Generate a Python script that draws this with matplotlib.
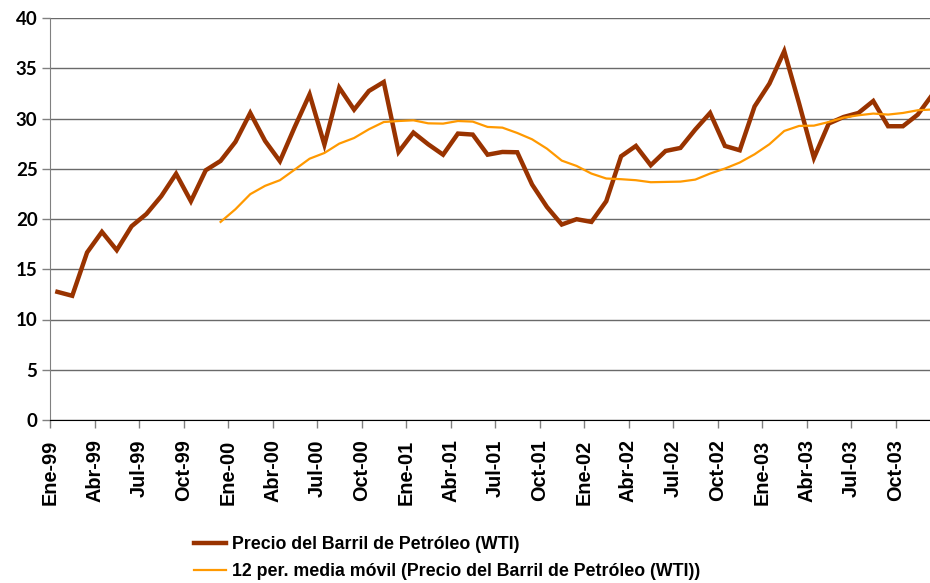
import numpy as np
import matplotlib
matplotlib.use('Agg')
import matplotlib.pyplot as plt
import matplotlib.transforms as mtransforms

# DATOS MENSUALES ENE-99 A DIC-03
precio_wti = [12.75, 12.36, 16.67, 18.72, 16.90, 19.28, 20.50, 22.27, 24.50, 21.77, 24.85, 25.78,
              27.67, 30.55, 27.77, 25.75, 29.16, 32.40, 27.40, 33.07, 30.88, 32.74, 33.63, 26.67,
              28.60, 27.43, 26.40, 28.50, 28.40, 26.40, 26.67, 26.64, 23.43, 21.20, 19.45, 19.98,
              19.71, 21.77, 26.24, 27.27, 25.35, 26.77, 27.07, 28.90, 30.55, 27.27, 26.84, 31.20,
              33.47, 36.70, 31.50, 26.08, 29.50, 30.15, 30.55, 31.74, 29.23, 29.23, 30.39, 32.40]

# MEDIA MOVIL 12 PERIODOS (EMPIEZA EN DIC-99)
media_movil = [19.71, 20.97, 22.47, 23.30, 23.86, 24.92, 26.00, 26.57, 27.50, 28.06, 28.93, 29.65,
               29.75, 29.82, 29.52, 29.49, 29.75, 29.69, 29.16, 29.09, 28.56, 27.93, 27.00, 25.81,
               25.28, 24.52, 24.03, 23.96, 23.86, 23.66, 23.69, 23.72, 23.92, 24.52, 25.02, 25.62,
               26.44, 27.44, 28.76, 29.26, 29.29, 29.65, 30.09, 30.32, 30.49, 30.39, 30.55, 30.82, 30.90]

etiquetas_x = ['Ene-99', 'Abr-99', 'Jul-99', 'Oct-99', 'Ene-00', 'Abr-00', 'Jul-00', 'Oct-00',
               'Ene-01', 'Abr-01', 'Jul-01', 'Oct-01', 'Ene-02', 'Abr-02', 'Jul-02', 'Oct-02',
               'Ene-03', 'Abr-03', 'Jul-03', 'Oct-03']

W, H = 930, 583
fig = plt.figure(figsize=(W / 100, H / 100), dpi=100)
ax = fig.add_axes([50 / W, (H - 420) / H, 890 / W, 402 / H])

x = np.arange(len(precio_wti))
x_mm = np.arange(11, 11 + len(media_movil))

ax.plot(x, precio_wti, color='#993300', lw=3.2, solid_joinstyle='miter',
        label='Precio del Barril de Petróleo (WTI)', zorder=3)
ax.plot(x_mm, media_movil, color='#FF9900', lw=1.6,
        label='12 per. media móvil (Precio del Barril de Petróleo (WTI))', zorder=3)

ax.set_xlim(-0.5, len(precio_wti) - 0.5)
ax.set_ylim(0, 40)
ax.set_yticks(range(0, 41, 5))
ax.set_yticklabels([str(v) for v in range(0, 41, 5)], fontsize=13.5,
                   fontweight='bold', family='Lato')
ax.set_xticks(np.arange(-0.5, len(precio_wti) - 1, 3))
ax.set_xticklabels(etiquetas_x, rotation=90, fontsize=14.3, fontweight='bold',
                   family='Liberation Sans', va='top', ha='center')
offset = mtransforms.ScaledTranslation(5 / 100, 0, fig.dpi_scale_trans)
for lbl in ax.get_xticklabels():
    lbl.set_transform(lbl.get_transform() + offset)

ax.grid(axis='y', color='#6a6a6a', lw=1.0)
ax.set_axisbelow(True)
for s in ['top', 'right']:
    ax.spines[s].set_visible(False)
ax.spines['left'].set_color('#808080')
ax.spines['bottom'].set_color('black')
ax.tick_params(axis='both', length=6, color='#808080', width=1)
ax.tick_params(axis='y', pad=3)
ax.tick_params(axis='x', pad=8)

fig.legend(loc='upper left', bbox_to_anchor=(194 / W, 1 - 536 / H), frameon=False,
           prop={'family': 'Liberation Sans', 'weight': 'bold', 'size': 12.8},
           handlelength=1.8, handletextpad=0.33, labelspacing=0.58, borderpad=0,
           borderaxespad=0)

fig.savefig('out.png', dpi=100)
